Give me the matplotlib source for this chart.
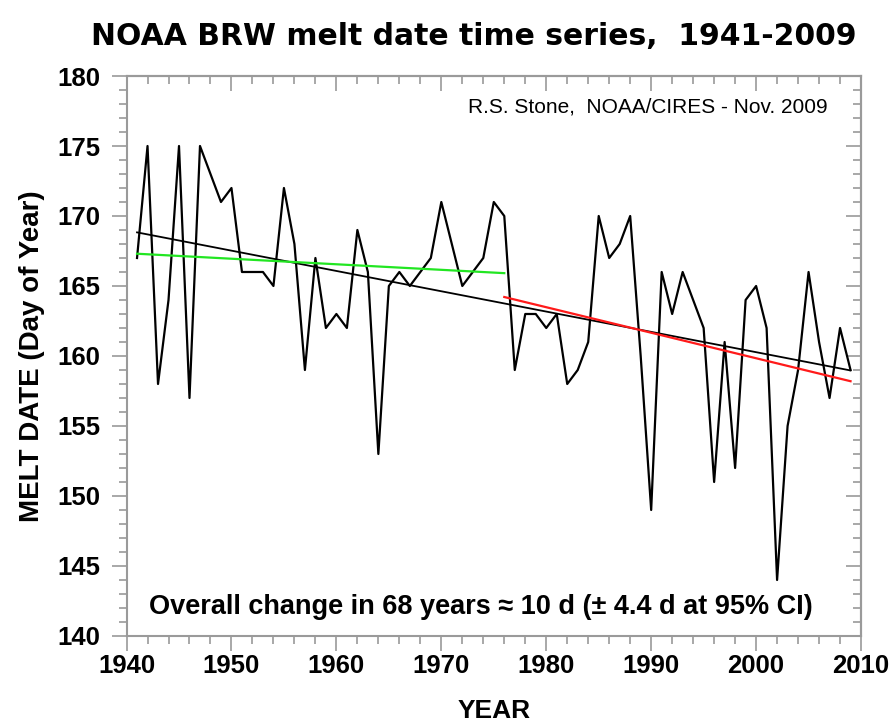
import matplotlib
matplotlib.use("Agg")
import matplotlib.pyplot as plt
import numpy as np
from matplotlib.ticker import MultipleLocator

plt.rcParams["font.family"] = ["Liberation Sans", "DejaVu Sans"]

years = np.arange(1941, 2010)
melt_day = [167, 175, 158, 164, 175, 157, 175, 173, 171, 172,
            166, 166, 166, 165, 172, 168, 159, 167, 162, 163,
            162, 169, 166, 153, 165, 166, 165, 166, 167, 171,
            168, 165, 166, 167, 171, 170, 159, 163, 163, 162,
            163, 158, 159, 161, 170, 167, 168, 170, 160, 149,
            166, 163, 166, 164, 162, 151, 161, 152, 164, 165,
            162, 144, 155, 159, 166, 161, 157, 162, 159]
split_year = 1976

title = "NOAA BRW melt date time series,  1941-2009"
credit = "R.S. Stone,  NOAA/CIRES - Nov. 2009"
note = "Overall change in 68 years \u2248 10 d (\u00b1 4.4 d at 95% CI)"

y = np.array(melt_day, dtype=float)
early = years <= split_year
late = years >= split_year


def trend(x, v):
    p = np.polyfit(x, v, 1)
    return np.polyval(p, x)


frame = "#9a9a9a"
fig = plt.figure(figsize=(8.93, 7.28), dpi=100)
ax = fig.add_axes([0.1417, 0.1264, 0.8225, 0.7692])

ax.plot(years, y, color="black", lw=1.6, zorder=3)
ax.plot(years, trend(years, y), color="black", lw=1.3, zorder=4)
ax.plot(years[early], trend(years[early], y[early]), color="#22e622", lw=1.6, zorder=4)
ax.plot(years[late], trend(years[late], y[late]), color="#ff1a1a", lw=1.6, zorder=4)

ax.set_xlim(1940, 2010)
ax.set_ylim(140, 180)
ax.xaxis.set_major_locator(MultipleLocator(10))
ax.xaxis.set_minor_locator(MultipleLocator(2))
ax.yaxis.set_major_locator(MultipleLocator(5))
ax.yaxis.set_minor_locator(MultipleLocator(1))
ax.tick_params(which="both", direction="out", color=frame, width=1.2,
               labelsize=18.5)
ax.tick_params(which="major", length=11)
ax.tick_params(which="minor", length=5.5)
ax.tick_params(axis="y", which="major", pad=8)
ax.tick_params(axis="x", which="major", pad=2)
for lab in ax.get_xticklabels() + ax.get_yticklabels():
    lab.set_fontweight("bold")
for s in ax.spines.values():
    s.set_color(frame)
    s.set_linewidth(1.5)

# top and right: ticks point inward, no labels
top = ax.secondary_xaxis("top")
top.xaxis.set_major_locator(MultipleLocator(10))
top.xaxis.set_minor_locator(MultipleLocator(2))
right = ax.secondary_yaxis("right")
right.yaxis.set_major_locator(MultipleLocator(5))
right.yaxis.set_minor_locator(MultipleLocator(1))
for sec in (top, right):
    sec.tick_params(which="both", direction="in", color=frame, width=1.2,
                    labelleft=False, labelright=False, labeltop=False,
                    labelbottom=False)
    sec.tick_params(which="major", length=11)
    sec.tick_params(which="minor", length=5.5)
    for s in sec.spines.values():
        s.set_color(frame)
        s.set_linewidth(1.5)

ax.set_xlabel("YEAR", fontsize=19, fontweight="bold", labelpad=15)
ax.set_ylabel("MELT DATE (Day of Year)", fontsize=20, fontweight="bold",
              labelpad=9)

fig.text(0.530, 0.950, title, ha="center", va="center", fontsize=21.5,
         fontweight="bold", family="DejaVu Sans")
ax.text(0.955, 0.945, credit, transform=ax.transAxes, ha="right",
        va="center", fontsize=15)
ax.text(0.483, 0.052, note, transform=ax.transAxes, ha="center",
        va="center", fontsize=19.5, fontweight="bold")

fig.savefig("out.png", dpi=100)
